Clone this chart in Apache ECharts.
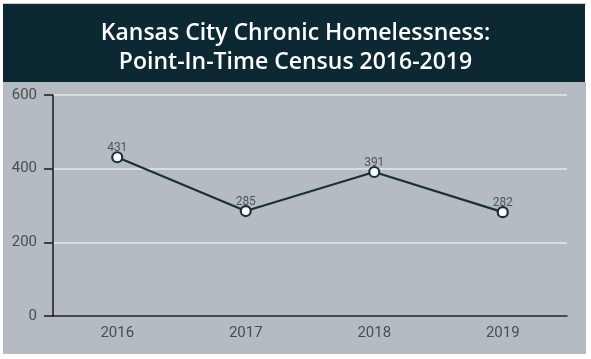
<!DOCTYPE html>
<html><head><meta charset="utf-8">
<script src="https://cdn.jsdelivr.net/npm/echarts@6/dist/echarts.min.js"></script>
<style>html,body{margin:0;padding:0;background:#fff}#c{width:591px;height:359px}</style>
</head><body><div id="c"></div>
<script>
const titleText = "Kansas City Chronic Homelessness:\nPoint-In-Time Census 2016-2019";
const years = ["2016", "2017", "2018", "2019"];
const counts = [431, 285, 391, 282];
const yTicks = [0, 200, 400, 600];

const chart = echarts.init(document.getElementById('c'), null, {renderer: 'canvas'});
chart.setOption({
  backgroundColor: '#ffffff',
  animation: false,
  graphic: [
    {type: 'rect', z: -10, shape: {x: 3, y: 3, width: 583, height: 2}, style: {fill: '#c9cfd4'}},
    {type: 'rect', z: -10, shape: {x: 3, y: 82, width: 583, height: 272}, style: {fill: '#b4bbc2'}},
    {type: 'rect', z: -10, shape: {x: 3, y: 4, width: 582, height: 78}, style: {fill: '#0c2833'}}
  ],
  title: {
    text: titleText,
    left: 'center',
    top: 14,
    textStyle: {color: '#ffffff', fontFamily: 'Open Sans', fontWeight: 600, fontSize: 23, lineHeight: 29}
  },
  grid: {left: 53, right: 24, top: 95, bottom: 43},
  xAxis: {
    type: 'category',
    data: years,
    boundaryGap: true,
    axisLine: {lineStyle: {color: '#1a1a1a', width: 1.5}},
    axisTick: {alignWithLabel: true, length: 7, lineStyle: {color: '#1a1a1a', width: 1.5}},
    axisLabel: {color: '#4a4e52', fontFamily: 'Roboto', fontSize: 15, margin: 10},
    splitLine: {show: false}
  },
  yAxis: {
    type: 'value',
    min: yTicks[0], max: yTicks[yTicks.length - 1], interval: 200,
    axisLine: {show: true, lineStyle: {color: '#1a1a1a', width: 1.5}},
    axisTick: {show: true, length: 9, lineStyle: {color: '#1a1a1a', width: 1.5}},
    axisLabel: {color: '#4a4e52', fontFamily: 'Roboto', fontSize: 15, margin: 16},
    splitLine: {lineStyle: {color: '#e4e8ea', width: 1.5}}
  },
  series: [{
    type: 'line',
    data: counts,
    symbol: 'circle',
    symbolSize: 10,
    lineStyle: {color: '#163237', width: 2.2},
    itemStyle: {color: '#ffffff', borderColor: '#163237', borderWidth: 2.2},
    label: {show: true, position: 'top', distance: -3, color: '#505458', fontFamily: 'Roboto', fontSize: 12}
  }]
});
</script></body></html>
